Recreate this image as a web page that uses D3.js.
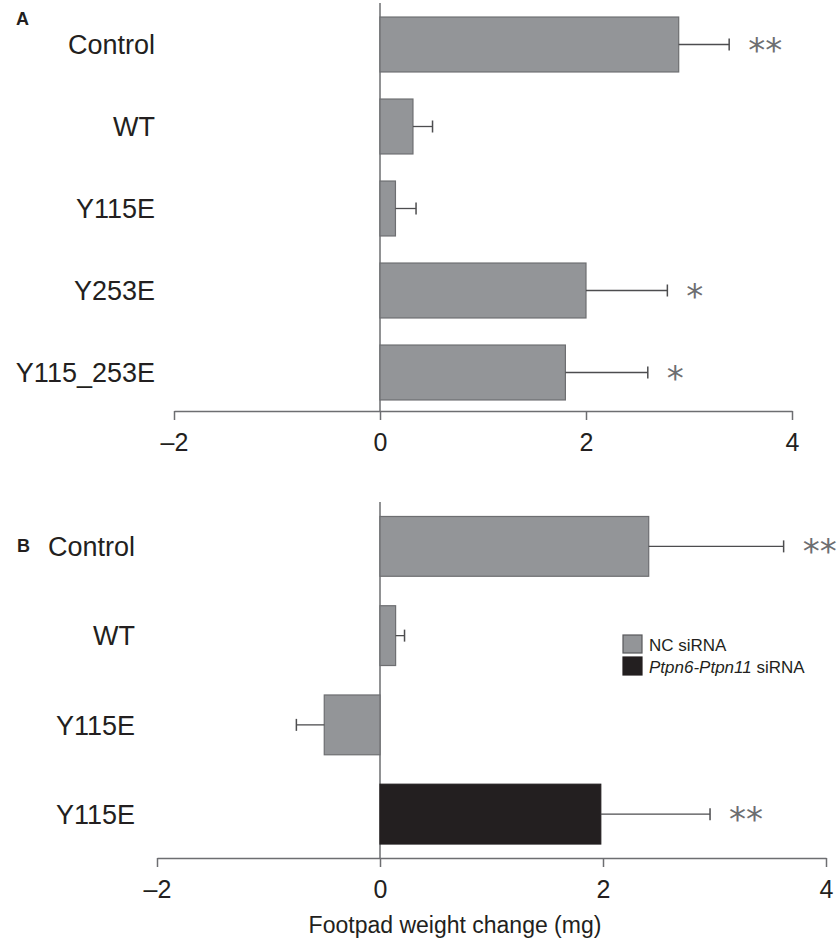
<!DOCTYPE html>
<html>
<head>
<meta charset="utf-8">
<script src="https://cdn.jsdelivr.net/npm/d3@7"></script>
<style>
  body { margin: 0; background: #fff; }
  text { font-family: "Liberation Sans", Arial, sans-serif; fill: #231f20; }
</style>
</head>
<body>
<svg id="chart" width="837" height="942"></svg>
<script>
// panel A data
const labelsA = ["Control", "WT", "Y115E", "Y253E", "Y115_253E"];
const valuesA = [2.90, 0.32, 0.15, 2.00, 1.80];
const errorsA = [0.49, 0.19, 0.20, 0.79, 0.80];
const starsA = ["**", "", "", "*", "*"];

// panel B data
const labelsB = ["Control", "WT", "Y115E", "Y115E"];
const valuesB = [2.41, 0.14, -0.50, 1.98];
const errorsB = [1.21, 0.08, 0.25, 0.98];
const starsB = ["**", "", "", "**"];
const groupB = ["NC siRNA", "NC siRNA", "NC siRNA", "Ptpn6-Ptpn11 siRNA"];

const xTicks = [-2, 0, 2, 4];
const axisTitle = "Footpad weight change (mg)";

const gray = "#939598", grayStroke = "#6d6e71", black = "#231f20", axisColor = "#6d6e71";
const fillOf = { "NC siRNA": gray, "Ptpn6-Ptpn11 siRNA": black };

const svg = d3.select("#chart");

function drawPanel(opts) {
    let g = svg.append("g");
    let x = d3.scaleLinear().domain([-2, 4]).range(opts.xRange);
    let y = d3.scaleBand()
        .domain(d3.range(opts.values.length))
        .range(opts.yRange)
        .paddingInner(0.33)
        .paddingOuter(0.165);

    // vertical zero line
    g.append("line")
        .attr("x1", x(0)).attr("x2", x(0))
        .attr("y1", opts.zeroTop).attr("y2", opts.axisY)
        .attr("stroke", axisColor).attr("stroke-width", 1.5);

    // bars
    g.selectAll(".bar").data(opts.values).enter().append("rect")
        .attr("class", "bar")
        .attr("x", d => x(Math.min(0, d)))
        .attr("y", (d, i) => y(i))
        .attr("width", d => Math.abs(x(d) - x(0)))
        .attr("height", y.bandwidth())
        .attr("fill", (d, i) => fillOf[opts.groups[i]])
        .attr("stroke", (d, i) => opts.groups[i] == "NC siRNA" ? grayStroke : black)
        .attr("stroke-width", 1.2);

    // error bars + significance stars
    opts.values.forEach((v, i) => {
        let cy = y(i) + y.bandwidth() / 2;
        let end = v >= 0 ? v + opts.errors[i] : v - opts.errors[i];
        g.append("line")
            .attr("x1", x(v)).attr("x2", x(end))
            .attr("y1", cy).attr("y2", cy)
            .attr("stroke", "#4d4d4f").attr("stroke-width", 1.3);
        g.append("line")
            .attr("x1", x(end)).attr("x2", x(end))
            .attr("y1", cy - 6).attr("y2", cy + 6)
            .attr("stroke", "#4d4d4f").attr("stroke-width", 1.5);
        if (opts.stars[i])
            g.append("text")
                .attr("x", x(end) + 19)
                .attr("y", cy + 17)
                .style("font-family", "'DejaVu Sans', sans-serif")
                .style("font-size", "34px")
                .style("fill", "#6d6e71")
                .text(opts.stars[i]);
    });

    // category labels
    g.selectAll(".cat").data(opts.labels).enter().append("text")
        .attr("class", "cat")
        .attr("x", opts.labelX)
        .attr("y", (d, i) => y(i) + y.bandwidth() / 2)
        .attr("dy", "0.36em")
        .attr("text-anchor", "end")
        .style("font-size", "27px")
        .text(d => d);

    // x axis
    let axis = g.append("g")
        .attr("transform", `translate(0, ${opts.axisY})`)
        .call(d3.axisBottom(x).tickValues(xTicks).tickSize(9).tickSizeOuter(0).tickPadding(13)
            .tickFormat(d => d < 0 ? "\u2013" + Math.abs(d) : d));
    axis.select(".domain").attr("stroke", axisColor).attr("stroke-width", 1.5);
    axis.selectAll(".tick line").attr("stroke", axisColor).attr("stroke-width", 1.5);
    axis.selectAll(".tick text")
        .style("font-family", "'Liberation Sans', Arial, sans-serif")
        .style("font-size", "25px")
        .style("fill", "#231f20");

    // panel letter
    g.append("text")
        .attr("x", opts.letterX).attr("y", opts.letterY)
        .style("font-size", "18px").style("font-weight", "bold")
        .text(opts.letter);
    return x;
}

drawPanel({
    letter: "A", letterX: 16, letterY: 25,
    labels: labelsA, values: valuesA, errors: errorsA, stars: starsA,
    groups: labelsA.map(() => "NC siRNA"),
    xRange: [174, 792], yRange: [3.5, 413.5],
    zeroTop: 3, axisY: 411, labelX: 155
});

drawPanel({
    letter: "B", letterX: 17, letterY: 552,
    labels: labelsB, values: valuesB, errors: errorsB, stars: starsB,
    groups: groupB,
    xRange: [157, 826], yRange: [501.75, 858.75],
    zeroTop: 502, axisY: 858, labelX: 135
});

// axis title
svg.append("text")
    .attr("x", 455).attr("y", 933)
    .attr("text-anchor", "middle")
    .style("font-size", "23px")
    .text(axisTitle);

// legend
const legendItems = ["NC siRNA", "Ptpn6-Ptpn11 siRNA"];
let legend = svg.append("g").attr("transform", "translate(623, 635)");
legendItems.forEach((name, i) => {
    legend.append("rect")
        .attr("x", 0).attr("y", i * 22)
        .attr("width", 19).attr("height", 18)
        .attr("fill", fillOf[name])
        .attr("stroke", i == 0 ? "#58595b" : black)
        .attr("stroke-width", 1.2);
    let t = legend.append("text")
        .attr("x", 26).attr("y", i * 22 + 16)
        .style("font-size", "17px");
    if (i == 0) t.text(name);
    else {
        t.append("tspan").style("font-style", "italic").text("Ptpn6-Ptpn11");
        t.append("tspan").text(" siRNA");
    }
});
</script>
</body>
</html>
